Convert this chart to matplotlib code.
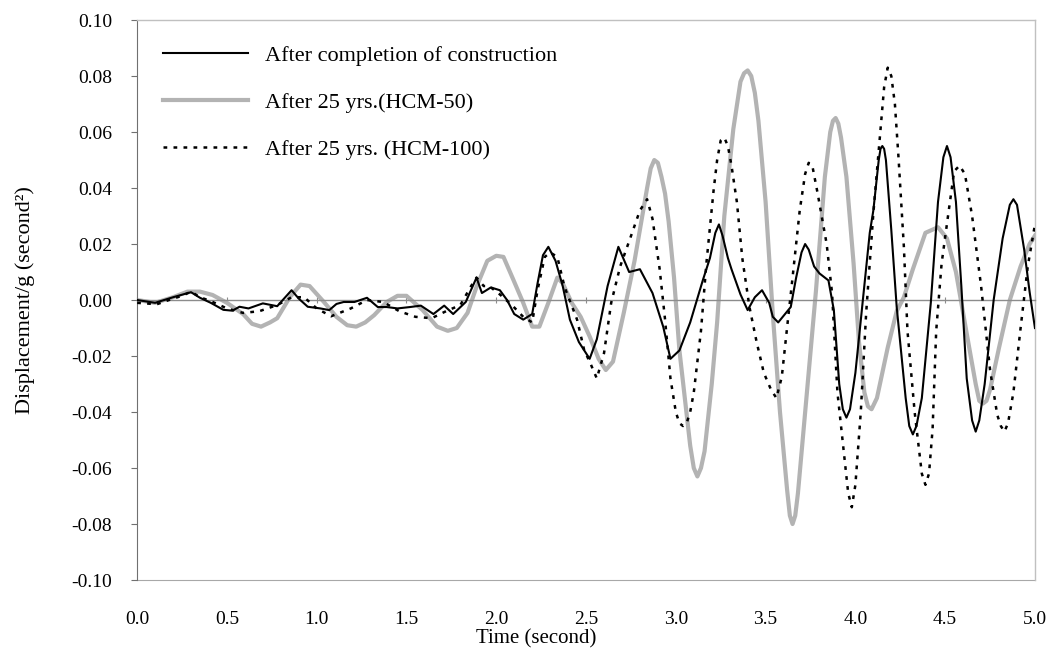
import numpy as np
import matplotlib.pyplot as plt
from matplotlib.ticker import MultipleLocator, FuncFormatter

plt.rcParams['font.family'] = ['Liberation Serif', 'DejaVu Serif']

# after completion of construction (solid black)
t_built = [0.00, 0.10, 0.20, 0.30, 0.35, 0.41, 0.48, 0.53, 0.57, 0.62, 0.70, 0.78, 0.86, 0.90,
           0.95, 1.02, 1.07, 1.11, 1.15, 1.21, 1.28, 1.34, 1.39, 1.45, 1.52, 1.58, 1.65, 1.71,
           1.76, 1.83, 1.89, 1.92, 1.97, 2.02, 2.06, 2.10, 2.15, 2.20, 2.23, 2.26, 2.29, 2.33,
           2.37, 2.41, 2.46, 2.52, 2.56, 2.62, 2.68, 2.74, 2.80, 2.87, 2.93, 2.97, 3.02, 3.08,
           3.15, 3.19, 3.22, 3.24, 3.26, 3.29, 3.31, 3.36, 3.40, 3.44, 3.48, 3.52, 3.54, 3.57,
           3.64, 3.67, 3.70, 3.72, 3.74, 3.77, 3.80, 3.85, 3.88, 3.91, 3.93, 3.95, 3.97, 4.00,
           4.04, 4.08, 4.10, 4.13, 4.14, 4.15, 4.16, 4.17, 4.20, 4.23, 4.28, 4.30, 4.32, 4.34,
           4.37, 4.42, 4.46, 4.49, 4.51, 4.53, 4.56, 4.59, 4.62, 4.65, 4.67, 4.69, 4.72, 4.77,
           4.82, 4.86, 4.88, 4.90, 4.94, 4.97, 5.00]
v_built = [0.000, -0.001, 0.001, 0.0028, 0.0008, -0.001, -0.0035, -0.0038, -0.0024, -0.003,
           -0.0012, -0.0022, 0.0035, 0.0005, -0.0024, -0.003, -0.0036, -0.0014, -0.0007, -0.0007,
           0.0008, -0.0025, -0.0025, -0.003, -0.0025, -0.002, -0.005, -0.002, -0.005, -0.0007,
           0.008, 0.0025, 0.0045, 0.0035, 0.000, -0.005, -0.007, -0.005, 0.006, 0.016, 0.019,
           0.014, 0.005, -0.007, -0.015, -0.021, -0.014, 0.005, 0.019, 0.010, 0.011, 0.0025,
           -0.0096, -0.021, -0.018, -0.008, 0.007, 0.015, 0.024, 0.027, 0.023, 0.015, 0.011,
           0.002, -0.0036, 0.001, 0.0035, -0.001, -0.006, -0.008, -0.0025, 0.008, 0.017, 0.020,
           0.018, 0.012, 0.0095, 0.007, -0.0036, -0.030, -0.039, -0.042, -0.039, -0.026, -0.001,
           0.024, 0.032, 0.050, 0.054, 0.055, 0.054, 0.050, 0.025, -0.0025, -0.035, -0.045,
           -0.048, -0.045, -0.035, -0.001, 0.035, 0.051, 0.055, 0.051, 0.035, 0.005, -0.028,
           -0.043, -0.047, -0.043, -0.030, 0.000, 0.022, 0.034, 0.036, 0.034, 0.018, 0.003,
           -0.010]

# after 25 yrs, HCM-50 (thick grey)
t_hcm50 = [0.00, 0.10, 0.20, 0.28, 0.35, 0.42, 0.50, 0.59, 0.64, 0.69, 0.74, 0.78, 0.85, 0.91,
           0.96, 1.04, 1.11, 1.17, 1.22, 1.27, 1.32, 1.39, 1.45, 1.50, 1.59, 1.67, 1.73, 1.78,
           1.84, 1.89, 1.95, 2.00, 2.04, 2.09, 2.15, 2.20, 2.24, 2.29, 2.34, 2.37, 2.42, 2.47,
           2.52, 2.57, 2.61, 2.65, 2.71, 2.77, 2.84, 2.86, 2.88, 2.90, 2.92, 2.94, 2.96, 2.99,
           3.02, 3.08, 3.10, 3.12, 3.14, 3.16, 3.20, 3.23, 3.27, 3.32, 3.36, 3.38, 3.40, 3.42,
           3.44, 3.46, 3.50, 3.54, 3.58, 3.62, 3.635, 3.65, 3.665, 3.68, 3.73, 3.78, 3.83, 3.86,
           3.875, 3.89, 3.905, 3.92, 3.95, 3.99, 4.02, 4.05, 4.07, 4.09, 4.12, 4.18, 4.23, 4.27,
           4.32, 4.39, 4.46, 4.51, 4.56, 4.62, 4.67, 4.69, 4.71, 4.73, 4.75, 4.80, 4.86, 4.92,
           4.97, 5.00]
v_hcm50 = [0.000, -0.001, 0.001, 0.003, 0.003, 0.0018, -0.001, -0.005, -0.0085, -0.0095,
           -0.008, -0.0065, 0.001, 0.0055, 0.005, -0.0007, -0.006, -0.009, -0.0095, -0.008,
           -0.0054, -0.0007, 0.0015, 0.0015, -0.0036, -0.0095, -0.011, -0.010, -0.0046, 0.0047,
           0.014, 0.0158, 0.0154, 0.008, -0.001, -0.0095, -0.0095, -0.001, 0.008, 0.006, -0.001,
           -0.006, -0.013, -0.021, -0.025, -0.022, -0.0046, 0.014, 0.040, 0.047, 0.050, 0.049,
           0.044, 0.038, 0.028, 0.008, -0.018, -0.052, -0.060, -0.063, -0.060, -0.054, -0.030,
           -0.008, 0.030, 0.061, 0.078, 0.081, 0.082, 0.080, 0.074, 0.064, 0.035, -0.005, -0.040,
           -0.068, -0.077, -0.080, -0.077, -0.069, -0.033, 0.003, 0.044, 0.060, 0.064, 0.065,
           0.063, 0.058, 0.044, 0.013, -0.015, -0.033, -0.038, -0.039, -0.035, -0.017, -0.004,
           0.001, 0.011, 0.024, 0.026, 0.022, 0.010, -0.012, -0.030, -0.036, -0.037, -0.036,
           -0.032, -0.017, 0.000, 0.012, 0.020, 0.023]

# after 25 yrs, HCM-100 (dotted)
t_hcm100 = [0.00, 0.11, 0.20, 0.25, 0.30, 0.35, 0.41, 0.50, 0.59, 0.68, 0.78, 0.86, 0.93, 1.00,
            1.08, 1.19, 1.28, 1.37, 1.46, 1.55, 1.64, 1.72, 1.80, 1.86, 1.89, 1.93, 1.96, 2.02,
            2.09, 2.15, 2.20, 2.23, 2.27, 2.30, 2.34, 2.38, 2.45, 2.49, 2.52, 2.56, 2.60, 2.64,
            2.69, 2.74, 2.80, 2.84, 2.87, 2.91, 2.94, 2.97, 3.00, 3.02, 3.04, 3.06, 3.08, 3.10,
            3.14, 3.17, 3.21, 3.23, 3.25, 3.27, 3.29, 3.31, 3.34, 3.37, 3.41, 3.45, 3.49, 3.53,
            3.56, 3.59, 3.62, 3.65, 3.69, 3.72, 3.74, 3.76, 3.79, 3.84, 3.87, 3.90, 3.94, 3.96,
            3.98, 4.00, 4.03, 4.06, 4.10, 4.14, 4.16, 4.18, 4.20, 4.22, 4.24, 4.27, 4.29, 4.33,
            4.37, 4.39, 4.41, 4.43, 4.45, 4.48, 4.52, 4.55, 4.58, 4.61, 4.65, 4.70, 4.75, 4.79,
            4.81, 4.83, 4.85, 4.88, 4.92, 4.96, 5.00]
v_hcm100 = [-0.001, -0.0015, 0.0005, 0.0015, 0.003, 0.001, -0.0004, -0.003, -0.0046, -0.004,
            -0.0018, 0.001, 0.001, -0.003, -0.0058, -0.003, 0.000, -0.0007, -0.004, -0.006,
            -0.0065, -0.004, -0.0018, 0.005, 0.008, 0.005, 0.005, 0.002, -0.002, -0.006, -0.008,
            0.0036, 0.0154, 0.017, 0.0154, 0.0047, -0.007, -0.018, -0.022, -0.028, -0.019,
            -0.001, 0.012, 0.021, 0.032, 0.036, 0.029, 0.011, -0.007, -0.028, -0.040, -0.044,
            -0.045, -0.044, -0.040, -0.033, -0.011, 0.013, 0.039, 0.050, 0.057, 0.058, 0.055,
            0.048, 0.035, 0.015, -0.0025, -0.015, -0.026, -0.032, -0.035, -0.0275, -0.0096,
            0.008, 0.032, 0.045, 0.049, 0.048, 0.038, 0.020, 0.0025, -0.033, -0.057, -0.069,
            -0.074, -0.066, -0.040, -0.0046, 0.031, 0.061, 0.076, 0.083, 0.080, 0.070, 0.051,
            0.019, -0.011, -0.040, -0.062, -0.066, -0.062, -0.046, -0.011, 0.013, 0.032, 0.046,
            0.048, 0.045, 0.030, 0.005, -0.025, -0.041, -0.045, -0.047, -0.044, -0.033, -0.010,
            0.012, 0.027]

labels = ['After completion of construction', 'After 25 yrs.(HCM-50)', 'After 25 yrs. (HCM-100)']
x_ticks = [0.0, 0.5, 1.0, 1.5, 2.0, 2.5, 3.0, 3.5, 4.0, 4.5, 5.0]

fig = plt.figure(figsize=(10.55, 6.61), dpi=100)
ax = fig.add_axes([0.13, 0.1225, 0.851, 0.8472])

ax.plot(t_built, v_built, color='black', lw=1.5, zorder=3, label=labels[0],
        solid_joinstyle='round')
ax.plot(t_hcm50, v_hcm50, color='#b3b3b3', lw=3.0, zorder=2, label=labels[1],
        solid_joinstyle='round')
ax.plot(t_hcm100, v_hcm100, color='black', lw=1.8, linestyle=(0, (1.5, 2.5)), zorder=4,
        label=labels[2])

ax.set_xlim(0, 5)
ax.set_ylim(-0.1, 0.1)

# x axis line crosses at zero, labels stay at the bottom
ax.spines['bottom'].set_position(('data', 0))
ax.spines['bottom'].set_color('#8c8c8c')
ax.spines['bottom'].set_linewidth(1.0)
ax.set_xticks(x_ticks)
ax.tick_params(axis='x', direction='inout', length=5, color='#8c8c8c', labelbottom=False)

sec = ax.secondary_xaxis(0)
sec.set_xticks(x_ticks)
sec.xaxis.set_major_formatter(FuncFormatter(lambda v, p: f'{v:.1f}'))
sec.tick_params(length=0, pad=22, labelsize=14)
sec.spines['bottom'].set_color('#a8a8a8')
sec.set_xlabel('Time (second)', fontsize=15, labelpad=1, x=0.445)

for side in ['top', 'right']:
    ax.spines[side].set_color('#c0c0c0')
    ax.spines[side].set_linewidth(1.0)
ax.spines['left'].set_color('#707070')

ax.yaxis.set_major_locator(MultipleLocator(0.02))
ax.yaxis.set_major_formatter(FuncFormatter(lambda v, p: f'{v:.2f}' if abs(v) > 1e-9 else '0.00'))
ax.tick_params(axis='y', direction='out', length=4, color='#707070', pad=14, labelsize=14)
ax.set_ylabel('Displacement/g (second²)', fontsize=16, labelpad=26)

ax.legend(loc='upper left', bbox_to_anchor=(0.007, 0.99), frameon=False, fontsize=16,
          handlelength=3.8, handletextpad=0.75, labelspacing=1.18)

fig.savefig('out.png', dpi=100)
